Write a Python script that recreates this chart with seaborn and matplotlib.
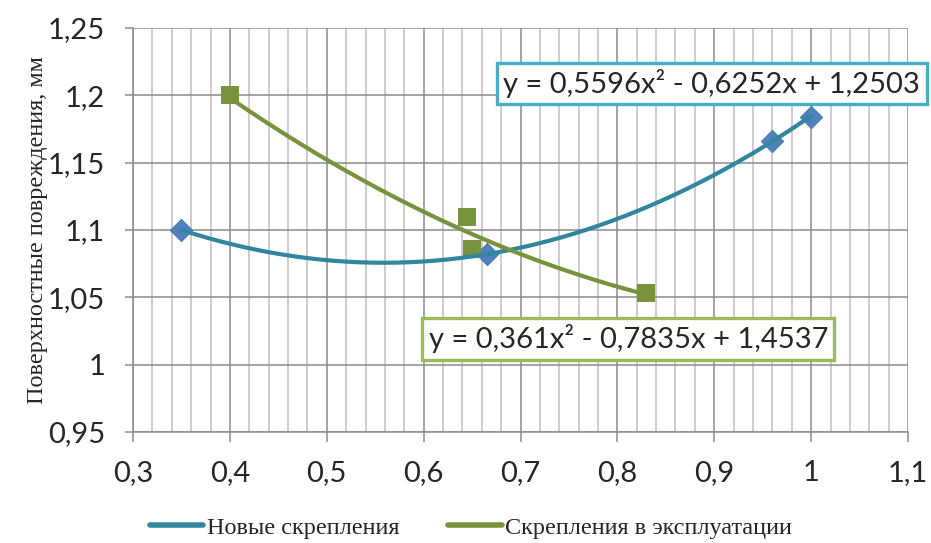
import numpy as np
import pandas as pd
import matplotlib
matplotlib.use("Agg")
import matplotlib.pyplot as plt
from matplotlib.ticker import MultipleLocator, FuncFormatter
from matplotlib.lines import Line2D
import seaborn as sns

# ---- data ----
new_x = [0.35, 0.665, 0.96, 1.0]
new_y = [1.100, 1.082, 1.166, 1.184]
old_x = [0.40, 0.645, 0.65, 0.83]
old_y = [1.200, 1.110, 1.086, 1.053]
new_coef = [0.5596, -0.6252, 1.2503]
old_coef = [0.361, -0.7835, 1.4537]
new_label = "Новые скрепления"
old_label = "Скрепления в эксплуатации"
new_eq = "y = 0,5596x² - 0,6252x + 1,2503"
old_eq = "y = 0,361x² - 0,7835x + 1,4537"
ylabel = "Поверхностные повреждения, мм"

sns.set_style("white")
plt.rcParams['font.family'] = ['Lato', 'DejaVu Sans']

fig = plt.figure(figsize=(9.31, 5.43), dpi=100)
ax = fig.add_axes([133/931, 1-432/543, (908-133)/931, (432-28)/543])

blue_m = "#4F81BD"
blue_l = "#31859C"
green = "#77933C"

df_new = pd.DataFrame({"x": new_x, "y": new_y})
df_old = pd.DataFrame({"x": old_x, "y": old_y})

sns.scatterplot(data=df_new, x="x", y="y", marker="D", s=130, color=blue_m,
                edgecolor="#3F6FA8", linewidth=0.6, ax=ax, zorder=3)
sns.scatterplot(data=df_old, x="x", y="y", marker="s", s=150, color=green,
                edgecolor=green, linewidth=0, ax=ax, zorder=3)

xn = np.linspace(min(new_x), max(new_x), 200)
xo = np.linspace(min(old_x), max(old_x), 200)
tn = pd.DataFrame({"x": xn, "y": np.polyval(new_coef, xn)})
to = pd.DataFrame({"x": xo, "y": np.polyval(old_coef, xo)})
sns.lineplot(data=tn, x="x", y="y", color=blue_l, lw=3, ax=ax, zorder=4)
sns.lineplot(data=to, x="x", y="y", color=green, lw=3, ax=ax, zorder=4)

ax.set_xlim(0.3, 1.1)
ax.set_ylim(0.95, 1.25)
ax.xaxis.set_major_locator(MultipleLocator(0.1))
ax.xaxis.set_minor_locator(MultipleLocator(0.02))
ax.yaxis.set_major_locator(MultipleLocator(0.05))

fmt = FuncFormatter(lambda v, p: ("%g" % round(v, 4)).replace(".", ","))
ax.xaxis.set_major_formatter(fmt)
ax.yaxis.set_major_formatter(fmt)

ax.grid(True, which="major", axis="both", color="#8C8C8C", lw=1.1)
ax.grid(True, which="minor", axis="x", color="#C0C0C0", lw=1.1)
ax.set_axisbelow(True)
for s in ["top", "right"]:
    ax.spines[s].set_visible(False)
for s in ["left", "bottom"]:
    ax.spines[s].set_color("#8C8C8C")
    ax.spines[s].set_linewidth(1.1)

ax.tick_params(axis="x", which="major", direction="out", length=7, width=1.1,
               color="#8C8C8C", labelsize=21, pad=13, bottom=True)
ax.tick_params(axis="y", which="major", direction="out", length=6, width=1.1,
               color="#8C8C8C", labelsize=21, pad=14, left=True)
ax.tick_params(axis="x", which="minor", bottom=False)

ax.set_xlabel("")
ax.set_ylabel(ylabel, family=["Liberation Serif"], fontsize=17.5, labelpad=0)

ax.text(0.8975, 1.2088, new_eq, fontsize=21, ha="center", va="center", zorder=6,
        bbox=dict(boxstyle="square,pad=0.22", fc="white", ec="#4BACC6", lw=2.4))
ax.text(0.8113, 1.0193, old_eq, fontsize=21, ha="center", va="center", zorder=6,
        bbox=dict(boxstyle="square,pad=0.22", fc="white", ec="#9BBB59", lw=2.4))

handles = [Line2D([0], [0], color=blue_l, lw=4, solid_capstyle="round"),
           Line2D([0], [0], color=green, lw=4, solid_capstyle="round")]
fig.legend(handles, [new_label, old_label], loc="center", bbox_to_anchor=(0.506, 0.028),
           ncol=2, frameon=False, prop={"family": "Liberation Serif", "size": 17.5},
           handlelength=2.2, handletextpad=0.15, columnspacing=2.0)

fig.savefig("out.png", dpi=100)
